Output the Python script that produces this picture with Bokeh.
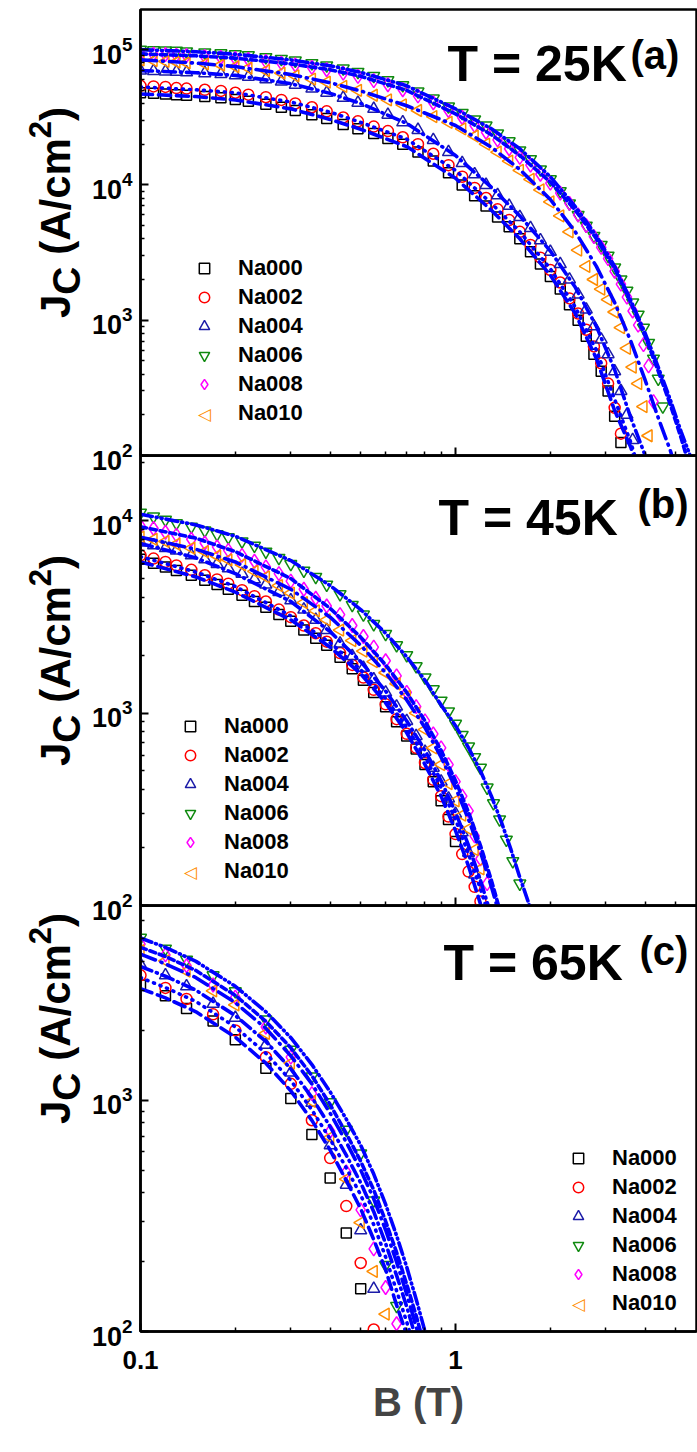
import math
from bokeh.plotting import figure
from bokeh.layouts import column, row
from bokeh.models import (Range1d, Label, Legend, LegendItem, FixedTicker,
                          LogTickFormatter, BasicTickFormatter, CustomJSTickFormatter)
from bokeh.embed import file_html
from bokeh.resources import INLINE

FONT = "Liberation Sans"

# ---------------- data ----------------
SERIES = ["Na000", "Na002", "Na004", "Na006", "Na008", "Na010"]
MARKERS = ["square", "circle", "triangle", "inverted_triangle", "diamond", "triangle"]
ANGLES = [0, 0, 0, 0, 0, math.pi / 2]
COLORS = ["#000000", "#FF0000", "#1C1CA8", "#108A10", "#FF00FF", "#FF8C00"]
SIZES = [10, 11, 12, 12, 14, 12]
DASHES = ["12 6", "1 6", "12 5 1 5", "12 4 1 4 1 4", "6 4", "16 6 1 6"]

# Panel (a): T = 25 K
B_a = [0.10, 0.11, 0.12, 0.13, 0.14, 0.16, 0.18, 0.20, 0.22, 0.25, 0.28, 0.31, 0.35, 0.39,
       0.44, 0.49, 0.55, 0.61, 0.68, 0.76, 0.85, 0.95, 1.05, 1.15, 1.25, 1.36, 1.48, 1.60,
       1.73, 1.86, 2.00, 2.15, 2.30, 2.45, 2.60, 2.75, 2.90, 3.05, 3.20, 3.35, 3.50, 3.65,
       3.80, 3.95, 4.10, 4.25, 4.40, 4.55]
na000_a = [48000, 47500, 47000, 46500, 46000, 45000, 44000, 42800, 41500, 39500,
           37500, 35500, 33000, 31000, 28000, 26000, 24000, 22000, 20000, 17500,
           15000, 12300, 10000, 8300, 7000, 5800, 4900, 4000, 3200, 2600,
           2100, 1700, 1300, 1000, 760, 560, 420, 300, 195, 125]
na002_a = [54000, 53500, 53000, 52000, 51500, 50500, 49500, 48000, 46500, 44500,
           42500, 40000, 37500, 35000, 31500, 29500, 27000, 25000, 22500, 20000,
           17000, 14000, 11500, 9500, 8000, 6600, 5500, 4500, 3600, 2900,
           2350, 1900, 1450, 1120, 850, 640, 480, 340, 225, 145]
na004_a = [70000, 69500, 69000, 68500, 68000, 67000, 66000, 64500, 63000, 60500,
           58000, 55000, 51500, 48000, 44000, 40500, 36500, 33000, 29000, 25500,
           21500, 17500, 14500, 12000, 10000, 8400, 7000, 5800, 4800, 3900,
           3200, 2600, 2000, 1550, 1200, 900, 720, 560, 420, 300, 200, 130]
na006_a = [100000, 99000, 98500, 98000, 97000, 95500, 94000, 92500, 91000, 88000,
           85500, 83000, 79500, 76500, 72500, 68500, 64000, 59500, 54500, 49000,
           43500, 38000, 34000, 30500, 27500, 24000, 21000, 18000, 15500, 13000,
           11000, 9000, 7300, 6000, 5000, 4200, 3600, 3000, 2450, 2000,
           1650, 1350, 1100, 880, 680, 520, 370, 230]
na008_a = [93000, 92500, 92000, 91000, 90500, 89000, 87500, 86000, 84500, 82000,
           79500, 77000, 74000, 71000, 67000, 63500, 59000, 55000, 50500, 45500,
           40500, 35500, 31500, 27500, 24500, 21500, 18500, 16000, 14000, 12000,
           10300, 8700, 7300, 6000, 5000, 4150, 3450, 2850, 2300, 1850,
           1480, 1170, 920, 660, 460, 250]
na010_a = [84000, 83000, 82000, 81000, 80000, 78500, 77000, 75000, 73000, 70000,
           67000, 64000, 60500, 57500, 53500, 50000, 46000, 42500, 39000, 35500,
           32000, 29000, 26000, 23000, 20000, 17500, 15000, 12800, 11000, 9200,
           7500, 5900, 4500, 3300, 2500, 2000, 1700, 1420, 1150, 880,
           620, 450, 340, 230, 140]
fitB_a = [0.1, 0.15, 0.2, 0.3, 0.4, 0.5, 0.7, 1.0, 1.3, 1.6, 2.0, 2.4, 2.8, 3.2, 3.6,
          4.0, 4.4, 4.8, 5.2, 5.6, 6.0]
fit000_a = [47000, 45000, 42500, 36500, 30500, 25800, 19200, 11200, 6500, 4000, 2150, 1120, 520, 215, 115, 50]
fit002_a = [53000, 50500, 48000, 41000, 34500, 29000, 21800, 12800, 7300, 4500, 2400, 1250, 600, 260, 125, 55]
fit004_a = [70000, 67500, 64500, 56000, 47500, 40000, 28500, 16500, 9600, 5900, 3250, 1750, 900, 430, 190, 100, 45]
fit006_a = [100000, 96500, 92500, 84000, 76000, 68000, 54000, 36500, 26000, 18500, 11500, 6900, 4200, 2500,
            1400, 800, 450, 260, 150, 95, 60]
fit008_a = [93000, 90000, 86500, 78500, 71000, 63500, 50000, 33500, 23500, 16500, 10500, 6500, 4000, 2400,
            1350, 760, 420, 240, 135, 75]
fit010_a = [84000, 79500, 75000, 65500, 57000, 49500, 38500, 27500, 19000, 13000, 7800, 4500, 2500, 1350,
            700, 360, 190, 110, 60]

# Panel (b): T = 45 K
B_b = [0.10, 0.11, 0.12, 0.13, 0.145, 0.16, 0.175, 0.19, 0.21, 0.23, 0.25, 0.275, 0.30, 0.33,
       0.36, 0.39, 0.43, 0.47, 0.51, 0.55, 0.60, 0.65, 0.70, 0.75, 0.80, 0.85, 0.90, 0.95,
       1.00, 1.05, 1.10, 1.15, 1.20, 1.26, 1.32, 1.38, 1.45, 1.52, 1.60]
na000_b = [6300, 6000, 5750, 5500, 5200, 4900, 4650, 4400, 4100, 3800, 3550, 3250, 3000, 2700,
           2450, 2250, 1950, 1700, 1480, 1280, 1080, 900, 760, 650, 540, 440, 350, 280, 215]
na002_b = [6600, 6350, 6100, 5850, 5550, 5200, 4950, 4700, 4350, 4050, 3800, 3450, 3150, 2850,
           2600, 2350, 2050, 1780, 1530, 1320, 1110, 930, 780, 660, 550, 450, 370, 290, 235,
           185, 150, 125, 105]
na004_b = [7700, 7450, 7200, 7000, 6600, 6300, 5950, 5650, 5300, 4950, 4650, 4250, 3850, 3450,
           3050, 2700, 2300, 1980, 1720, 1500, 1280, 1080, 910, 760, 630, 520, 440, 360, 300,
           240, 188, 145]
na006_b = [11000, 10500, 10100, 9700, 9300, 8900, 8500, 8200, 7800, 7400, 6900, 6400, 5950, 5500,
           5100, 4650, 4150, 3650, 3250, 2900, 2580, 2250, 2000, 1750, 1530, 1330, 1160, 1020, 880,
           770, 670, 590, 520, 410, 340, 280, 220, 170, 130]
na008_b = [9400, 9100, 8700, 8400, 8000, 7650, 7300, 7000, 6600, 6150, 5750, 5300, 4850, 4400,
           3950, 3600, 3250, 2850, 2500, 2200, 1870, 1560, 1280, 1080, 910, 780, 660, 540, 440,
           370, 310, 230, 175, 130]
na010_b = [8200, 8000, 7800, 7550, 7200, 6900, 6550, 6250, 5900, 5450, 5100, 4600, 4200, 3750,
           3400, 3050, 2700, 2380, 2100, 1850, 1620, 1420, 1220, 1000, 820, 660, 540, 430, 350,
           295, 250, 195, 155]
fitB_b = [0.1, 0.15, 0.2, 0.3, 0.4, 0.5, 0.6, 0.7, 0.8, 0.9, 1.0, 1.1, 1.2, 1.3, 1.4, 1.5, 1.6,
          1.7, 1.8, 1.9]
fit000_b = [6100, 5100, 4250, 3050, 2200, 1600, 1130, 790, 540, 370, 245, 160, 102, 62]
fit002_b = [6500, 5400, 4550, 3200, 2320, 1680, 1190, 840, 590, 410, 280, 185, 122, 80, 50]
fit004_b = [7600, 6400, 5300, 3800, 2650, 1850, 1300, 910, 640, 445, 305, 205, 135, 88, 57]
fit006_b = [10800, 9500, 8300, 6200, 4600, 3450, 2600, 1960, 1480, 1100, 860, 660, 500, 370, 270,
            195, 140, 105, 75, 52]
fit008_b = [9300, 8100, 6900, 5000, 3500, 2480, 1780, 1280, 910, 640, 445, 305, 205, 135, 88]
fit010_b = [8200, 7100, 6100, 4400, 3150, 2250, 1620, 1170, 840, 590, 410, 280, 190, 125, 82]

# Panel (c): T = 65 K
B_c = [0.10, 0.12, 0.14, 0.17, 0.20, 0.25, 0.30, 0.35, 0.40, 0.45, 0.50, 0.55, 0.60, 0.65]
na000_c = [3160, 2840, 2500, 2210, 1830, 1380, 1020, 713, 462, 267, 153]
na002_c = [3480, 3070, 2750, 2360, 2010, 1540, 1180, 821, 563, 349, 198, 102]
na004_c = [3880, 3480, 3120, 2620, 2280, 1740, 1320, 977, 640, 432, 274, 153]
na006_c = [5060, 4540, 4070, 3480, 2970, 2240, 1660, 1270, 983, 748, 590, 369, 194, 129]
na008_c = [4750, 4270, 3830, 3160, 2800, 2080, 1540, 1070, 736, 491, 336, 228, 155, 108]
na010_c = [4450, 4020, 3630, 2980, 2590, 1950, 1450, 990, 692, 457, 296, 182, 119]
fitB_c = [0.1, 0.12, 0.15, 0.2, 0.25, 0.3, 0.35, 0.4, 0.45, 0.5, 0.55, 0.6, 0.65, 0.7, 0.75,
          0.8, 0.85, 0.9]
fit000_c = [3050, 2780, 2420, 1880, 1450, 1100, 820, 610, 450, 340, 250, 185, 130, 97, 68]
fit002_c = [3400, 3080, 2680, 2080, 1600, 1220, 910, 680, 510, 390, 290, 210, 150, 110, 80, 57]
fit004_c = [3800, 3450, 3000, 2330, 1800, 1370, 1030, 770, 580, 440, 330, 240, 175, 128, 93, 67]
fit006_c = [5050, 4600, 4000, 3120, 2420, 1870, 1430, 1090, 830, 640, 480, 355, 260, 190, 138, 100, 72]
fit008_c = [4600, 4200, 3650, 2850, 2200, 1690, 1280, 960, 720, 545, 410, 300, 220, 160, 117, 85, 60]
fit010_c = [4300, 3900, 3400, 2650, 2050, 1560, 1180, 880, 660, 500, 375, 275, 200, 145, 105, 75]

X_MAJOR = [0.01, 0.1, 1, 10]
Y_MAJOR = [10, 100, 1000, 10000, 100000, 1000000]

LEFT = 140          # left border of every panel (room for tick labels and y title)
MAIN_W = 697
GLYPH = 26


def minor_ticks(exps):
    return [m * 10.0 ** e for e in exps for m in range(2, 10)]


def style_axis(ax):
    ax.axis_line_width = 2.5
    ax.axis_line_color = "black"
    ax.major_tick_line_width = 2
    ax.minor_tick_line_width = 1.5
    ax.major_tick_line_color = "black"
    ax.minor_tick_line_color = "black"
    ax.major_tick_in = 8
    ax.major_tick_out = 0
    ax.minor_tick_in = 4
    ax.minor_tick_out = 0
    ax.major_label_text_font = FONT
    ax.major_label_text_font_style = "bold"
    ax.major_label_text_color = "black"


def ylabel_strip(height, center_y):
    lf = figure(width=LEFT, height=height, x_range=Range1d(0, 1), y_range=Range1d(0, 1),
                output_backend="svg", toolbar_location=None,
                x_axis_location=None, y_axis_location=None,
                min_border_left=0, min_border_right=0, min_border_top=0, min_border_bottom=0)
    lf.outline_line_color = None
    lf.grid.visible = False
    lf.border_fill_color = None
    lf.background_fill_color = None
    F = 42
    pieces = [("J", F, 0, 0.556), ("C", 39, 11, 0.722), ("(A/cm", F, 0, 2.778),
              ("2", 31, -16, 0.556), (")", F, 0, 0.333)]
    total = sum(sz * w for _, sz, _, w in pieces) + 0.278 * F
    y = center_y - total / 2
    base_x = 55
    for i, (txt, sz, dx, w) in enumerate(pieces):
        if i == 2:
            y += 0.278 * F
        lf.add_layout(Label(x=base_x + dx, y=y, x_units="screen", y_units="screen", text=txt,
                            angle=math.pi / 2, text_font=FONT, text_font_style="bold",
                            text_font_size=f"{sz}px", text_color="black",
                            text_align="left", text_baseline="alphabetic"))
        y += sz * w
    return lf


def make_panel(B, data, fitB, fits, y_end, frame_h, top_b, bottom_b, overlap,
               title, tag, title_xy, tag_xy, legend_xy, bottom_labels):
    height = top_b + frame_h + bottom_b
    p = figure(width=MAIN_W, height=height,
               x_axis_type="log", y_axis_type="log",
               x_range=Range1d(0.1, 5.82), y_range=Range1d(100, y_end),
               output_backend="svg", toolbar_location=None,
               min_border_left=LEFT, min_border_right=1,
               min_border_top=top_b, min_border_bottom=bottom_b)
    p.border_fill_color = None
    if overlap:
        p.background_fill_color = None
    p.margin = (0, 0, 0, -LEFT)
    p.grid.visible = False
    p.outline_line_color = "black"
    p.outline_line_width = 2.5
    p.outline_line_alpha = 1.0

    xa = p.xaxis[0]
    ya = p.yaxis[0]
    style_axis(xa)
    style_axis(ya)
    xa.ticker = FixedTicker(ticks=X_MAJOR, minor_ticks=minor_ticks([-2, -1, 0]))
    ya.ticker = FixedTicker(ticks=Y_MAJOR, minor_ticks=minor_ticks([1, 2, 3, 4, 5]))
    ya.formatter = LogTickFormatter()
    ya.major_label_text_font_size = "27px"
    ya.major_label_standoff = 8
    if bottom_labels:
        xa.formatter = BasicTickFormatter()
        xa.major_label_text_font_size = "26px"
        xa.major_label_standoff = 19
        xa.axis_label = "B (T)"
        xa.axis_label_text_font = FONT
        xa.axis_label_text_font_style = "bold"
        xa.axis_label_text_font_size = "40px"
        xa.axis_label_standoff = 8
    else:
        xa.formatter = CustomJSTickFormatter(code="return ''")
        xa.major_label_standoff = 0

    items = []
    for name, vals, mk, ang, col, sz in zip(SERIES, data, MARKERS, ANGLES, COLORS, SIZES):
        r = p.scatter(x=B[:len(vals)], y=vals, marker=mk, angle=ang, size=sz,
                      fill_color=None, line_color=col, line_width=1.5)
        if ang:
            # legend keys are never rotated by Bokeh: use a hidden key and draw a "◁" instead
            key = p.scatter(x=B[:1], y=vals[:1], marker=mk, size=sz, fill_color=None,
                            line_color=col, line_alpha=0)
            items.append(LegendItem(label=name, renderers=[key]))
        else:
            items.append(LegendItem(label=name, renderers=[r]))
    for fv, dash in zip(fits, DASHES):
        p.line(x=fitB[:len(fv)], y=fv, line_color="#0000FF", line_width=3.6,
               line_dash=dash, line_cap="round")

    leg = Legend(items=items, location=legend_xy, padding=0, spacing=3,
                 glyph_width=GLYPH, glyph_height=GLYPH, label_height=GLYPH, label_standoff=21,
                 label_text_font=FONT, label_text_font_style="bold",
                 label_text_font_size="22px", label_text_color="black",
                 background_fill_alpha=0, border_line_color=None, margin=0)
    p.add_layout(leg)
    # rotated key for the last (Na010) legend row
    p.add_layout(Label(x=legend_xy[0] + GLYPH / 2, y=legend_xy[1] + GLYPH / 2,
                       x_units="screen", y_units="screen", text="\u25C1",
                       text_font="DejaVu Sans", text_font_size="17px", text_color=COLORS[5],
                       text_align="center", text_baseline="middle"))

    p.add_layout(Label(x=title_xy[0], y=title_xy[1], x_units="screen", y_units="screen",
                       text=title, text_font=FONT, text_font_style="bold",
                       text_font_size="50px", text_color="black",
                       text_align="left", text_baseline="alphabetic"))
    p.add_layout(Label(x=tag_xy[0], y=tag_xy[1], x_units="screen", y_units="screen",
                       text=tag, text_font=FONT, text_font_style="bold",
                       text_font_size="40px", text_color="black",
                       text_align="left", text_baseline="alphabetic"))
    strip = ylabel_strip(height, bottom_b + frame_h / 2)
    r = row(strip, p)
    if overlap:
        r.margin = (-overlap, 0, 0, 0)
    return r


ra = make_panel(B_a, [na000_a, na002_a, na004_a, na006_a, na008_a, na010_a], fitB_a,
                [fit000_a, fit002_a, fit004_a, fit006_a, fit008_a, fit010_a],
                1.98e5, 446, 9, 20, 0, "T = 25K", "(a)", (307, 392), (490, 401), (51, 29), False)
rb = make_panel(B_b, [na000_b, na002_b, na004_b, na006_b, na008_b, na010_b], fitB_b,
                [fit000_b, fit002_b, fit004_b, fit006_b, fit008_b, fit010_b],
                2.18e4, 450, 0, 20, 20, "T = 45K", "(b)", (298, 388), (497, 402), (37, 21), False)
rc = make_panel(B_c, [na000_c, na002_c, na004_c, na006_c, na008_c, na010_c], fitB_c,
                [fit000_c, fit002_c, fit004_c, fit006_c, fit008_c, fit010_c],
                6.98e3, 426, 0, 100, 20, "T = 65K", "(c)", (303, 369), (499, 381), (425, 15), True)

layout = column(ra, rb, rc)
open("out.html", "w").write(file_html(layout, INLINE))
